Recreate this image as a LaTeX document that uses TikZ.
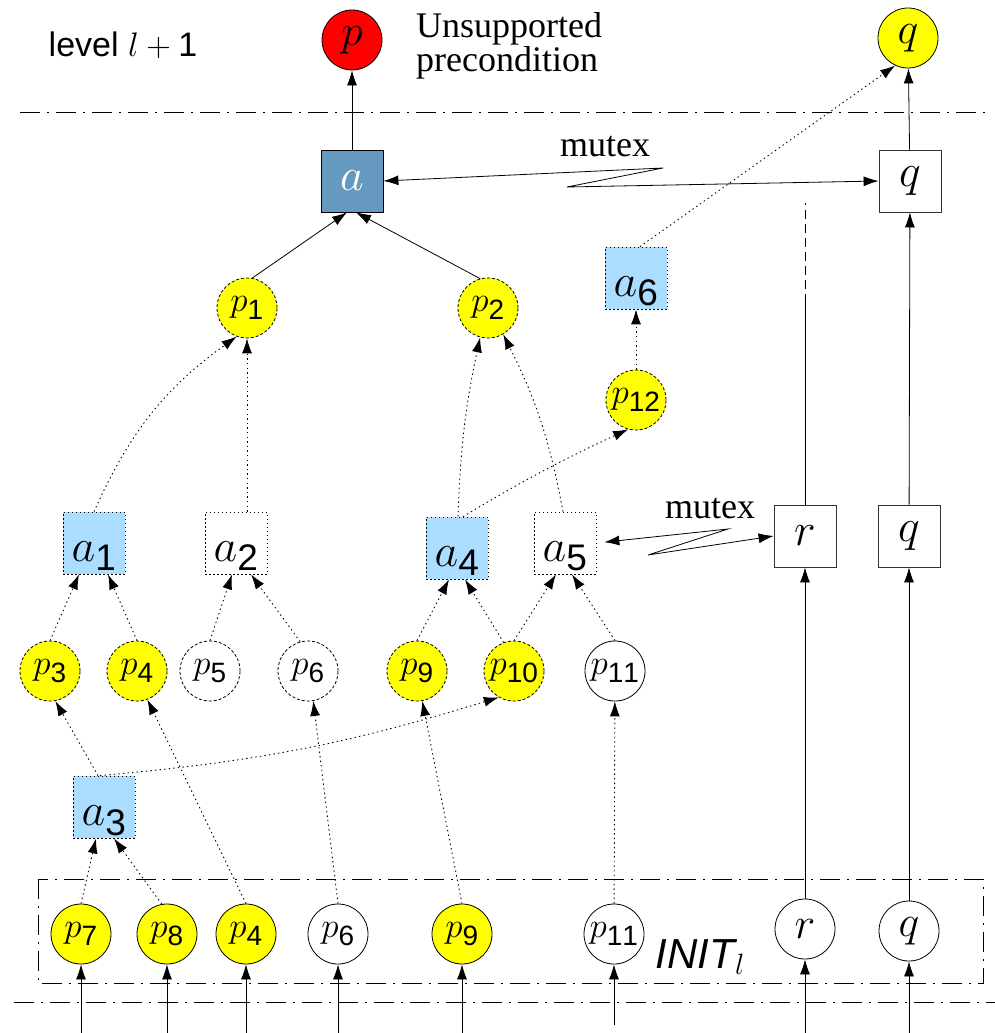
\RequirePackage{fix-cm}
\documentclass[tikz,border=0pt]{standalone}
\usepackage{amsmath}
\usepackage{fontspec}
\setmainfont{Liberation Serif}
\setsansfont{Liberation Sans}
\usepackage{xcolor}
\usepackage{tikz}
\usetikzlibrary{positioning,arrows.meta}
\definecolor{factyellow}{HTML}{FFFF00}
\definecolor{steelblue}{HTML}{6699BF}
\definecolor{skyblue}{HTML}{AADDFF}
\DeclareMathSizes{35}{35}{28}{20}
\DeclareMathSizes{46}{46}{37}{26}

\begin{document}
\begin{tikzpicture}[x=1pt,y=-1pt,line width=0.8pt,>={Latex[length=15pt,width=10pt]},
  every node/.style={font=\fontsize{36}{32}\selectfont}]
\tikzstyle{fact}=[circle,draw,minimum size=60pt,inner sep=0pt,font=\fontsize{44}{44}\selectfont]
\tikzstyle{subfact}=[fact,font=\fontsize{35}{35}\selectfont]
\tikzstyle{maybefact}=[subfact,dash pattern=on 3pt off 2pt]
\tikzstyle{act}=[draw,minimum size=62pt,inner sep=0pt,font=\fontsize{46}{46}\selectfont]
\tikzstyle{maybeact}=[act,text height=36pt,text depth=0pt,dash pattern=on 1.5pt off 2.5pt]
\tikzstyle{dotline}=[line width=0.9pt,dash pattern=on 1.4pt off 3.2pt]
\tikzstyle{sepline}=[line width=0.9pt,dash pattern=on 20pt off 7pt on 2pt off 7pt]
\useasboundingbox (0,0) rectangle (995,1033);
\node[anchor=base west,font=\sffamily\fontsize{34}{34}\selectfont] (lvl) at (45,57) {level $l+\textsf{1}$};
\node[fact,fill=red] (pr) at (352,40) {$p$};
\node[right=30pt of pr,yshift=-6pt,align=left] (unsup) {Unsupported\\precondition};
\node[fact,fill=factyellow] (qtop) at (908,38) {$q$};
\draw[sepline] (20,112) -- (985,112);
\node[act,fill=steelblue,text=white] (a) at (352,181) {$a$};
\node[act,draw=black!80] (qnop) at (910,181) {$q$};
\node (mx1) at (605,147) {mutex};
\node[maybeact,fill=skyblue] (a6) at (636,278) {$a_{\mathsf{6}}$};
\node[maybefact,fill=factyellow] (p1) at (247,308) {$p_{\mathsf{1}}$};
\node[maybefact,fill=factyellow] (p2) at (488,308) {$p_{\mathsf{2}}$};
\node[maybefact,fill=factyellow] (p12) at (636,400) {$p_{\mathsf{12}}$};
\node[maybeact,fill=skyblue] (a1) at (94,543) {$a_{\mathsf{1}}$};
\node[maybeact] (a2) at (236,543) {$a_{\mathsf{2}}$};
\node[maybeact,fill=skyblue] (a4) at (457,548) {$a_{\mathsf{4}}$};
\node[maybeact] (a5) at (565,543) {$a_{\mathsf{5}}$};
\node (mx2) at (710,509) {mutex};
\node[act,draw=black!80] (rnop) at (805,536) {$r$};
\node[act,draw=black!80] (qnop2) at (909,536) {$q$};
\node[maybefact,fill=factyellow] (p3) at (50,671) {$p_{\mathsf{3}}$};
\node[maybefact,fill=factyellow] (p4) at (137,671) {$p_{\mathsf{4}}$};
\node[maybefact] (p5) at (210,671) {$p_{\mathsf{5}}$};
\node[maybefact] (p6) at (308,671) {$p_{\mathsf{6}}$};
\node[maybefact,fill=factyellow] (p9) at (417,671) {$p_{\mathsf{9}}$};
\node[maybefact,fill=factyellow] (p10) at (514,671) {$p_{\mathsf{10}}$};
\node[subfact] (p11) at (615,671) {$p_{\mathsf{11}}$};
\node[maybeact,fill=skyblue] (a3) at (104,807) {$a_{\mathsf{3}}$};
\draw[sepline] (38,879) rectangle (983,983);
\node[subfact,fill=factyellow] (p7i) at (81,934) {$p_{\mathsf{7}}$};
\node[subfact,fill=factyellow] (p8i) at (167,934) {$p_{\mathsf{8}}$};
\node[subfact,fill=factyellow] (p4i) at (246,934) {$p_{\mathsf{4}}$};
\node[subfact] (p6i) at (338,934) {$p_{\mathsf{6}}$};
\node[subfact,fill=factyellow] (p9i) at (462,934) {$p_{\mathsf{9}}$};
\node[subfact] (p11i) at (614,934) {$p_{\mathsf{11}}$};
\node[anchor=base west,font=\sffamily\itshape\fontsize{42}{42}\selectfont] (init) at (652,968) {INIT$_l$};
\node[fact] (ri) at (805,929) {$r$};
\node[fact] (qi) at (909,931) {$q$};
\draw[sepline] (14,1002) -- (995,1002);
\coordinate (z1) at (663,168);
\coordinate (z2) at (567,187);
\coordinate (z3) at (728,529);
\coordinate (z4) at (648,555);
\coordinate (rcut) at (805,303);
\coordinate (rend) at (805,203);
\coordinate (floor) at (0,1033);
\coordinate (floor2) at (0,1025);
\draw[->] (a) -- (pr);
\draw[->] (qnop) -- (qtop);
\draw[->] (qnop2) -- (qnop);
\draw[<->] (a.east) -- (z1) -- (z2) -- (qnop.west);
\draw[<->,shorten <=8pt] (a5.east) -- (z3) -- (z4) -- (rnop.west);
\draw (rnop) -- (rcut);
\draw[dash pattern=on 9pt off 5pt] (rcut) -- (rend);
\draw[->] (p1.80) -- ([xshift=-5pt]a.south);
\draw[->] (p2.105) -- ([xshift=4pt]a.south);
\draw[->,dotline] (a1.north) to[bend left=15] (p1.250);
\draw[->,dotline] (p1 |- a2.north) -- (p1.south);
\draw[->,dotline] ([xshift=1pt]a4.north) to[bend left=5] (p2.255);
\draw[->,dotline] ([xshift=-2pt]a5.north) to[bend right=8] (p2.300);
\draw[->,dotline] ([xshift=6pt]a4.north) to[bend left=3] (p12.255);
\draw[->,dotline] (p12) -- (a6);
\draw[->,dotline] ([xshift=4pt]a6.north) -- (qtop.245);
\draw[->,dotline] (p3.north) -- ([xshift=-15pt]a1.south);
\draw[->,dotline] (p4.north) -- ([xshift=14pt]a1.south);
\draw[->,dotline] (p5.north) -- ([xshift=-4pt]a2.south);
\draw[->,dotline] (p6.105) -- ([xshift=15pt]a2.south);
\draw[->,dotline] (p9.north) -- ([xshift=-8pt]a4.south);
\draw[->,dotline] (p10.110) -- ([xshift=8pt]a4.south);
\draw[->,dotline] (p10.north) -- ([xshift=-9pt]a5.south);
\draw[->,dotline] (p11.north) -- ([xshift=7pt]a5.south);
\draw[->,dotline] ([xshift=-6pt]a3.north) -- (p3.280);
\draw[->,dotline] ([xshift=-4pt]a3.north) to[bend right=6] (p10.240);
\draw[->,dotline] (p7i.north) -- ([xshift=-8pt]a3.south);
\draw[->,dotline] (p8i.100) -- ([xshift=10pt]a3.south);
\draw[->,dotline] (p4i.north) -- (p4.290);
\draw[->,dotline] (p6i.north) -- (p6.280);
\draw[->,dotline] (p9i.north) -- (p9.280);
\draw[->,dotline] (p11i) -- (p11);
\draw[->] (ri) -- (rnop);
\draw[->] (qi) -- (qnop2);
\foreach \n in {p7i,p8i,p4i,p6i,p9i,ri,qi}
  \draw[->] (\n |- floor) -- (\n);
\draw[->] (p11i |- floor2) -- (p11i);
\end{tikzpicture}
\end{document}
